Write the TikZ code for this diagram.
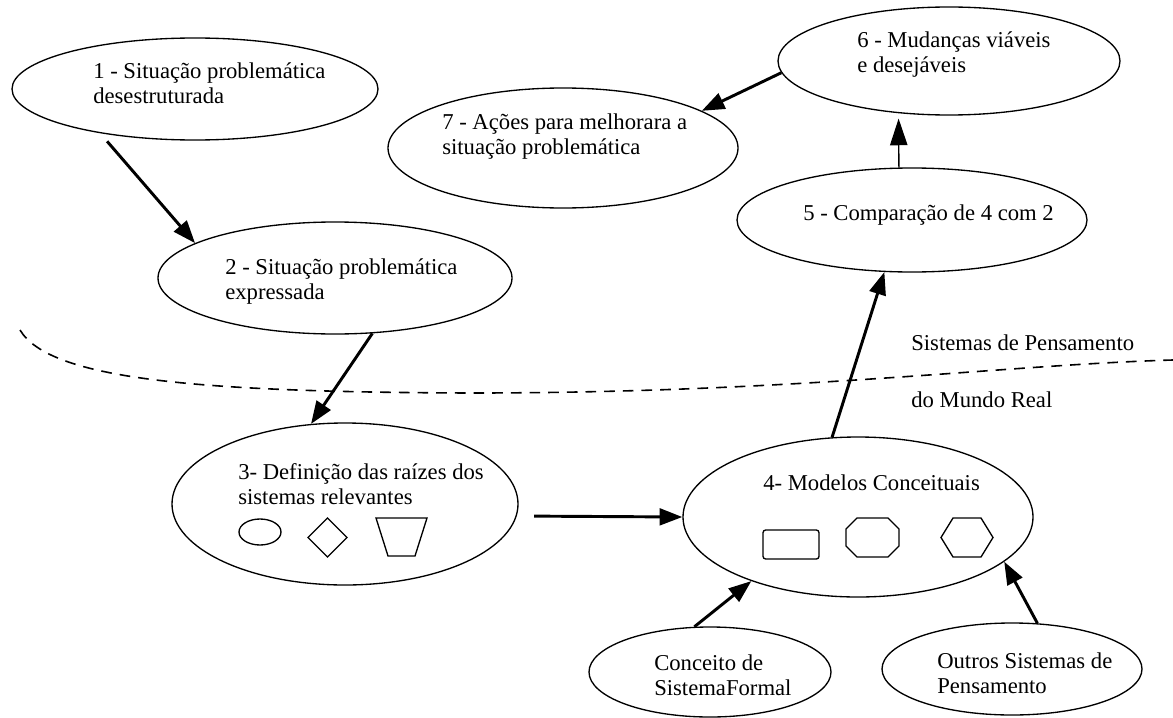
\documentclass[tikz,border=0pt]{standalone}
\usepackage{fontspec}
\setmainfont{Liberation Serif}
\usetikzlibrary{shapes.geometric,arrows.meta}

\begin{document}
\begin{tikzpicture}[x=0.75pt,y=0.75pt,yscale=-1,xscale=1,
	bubble/.style={draw, ellipse, inner sep=0pt, line width=1pt},
	lbl/.style={anchor=west, inner sep=0pt, align=left, font=\fontsize{17pt}{18.75pt}\selectfont},
	flow/.style={line width=2.2pt, -{Triangle[length=17pt,width=12.5pt]}},
	thinflow/.style={line width=1pt, -{Triangle[length=20pt,width=13pt]}},
	icon/.style={line width=1pt}]
	\useasboundingbox (0,0) rectangle (1173,717);
	
	%Shape: Ellipse
	\node [bubble, minimum width=274.5pt, minimum height=76.5pt] (e1) at (195,89) {};
	%Shape: Ellipse
	\node [bubble, minimum width=265.5pt, minimum height=84pt] (e2) at (335,278) {};
	%Shape: Ellipse
	\node [bubble, minimum width=259.5pt, minimum height=121.5pt] (e3) at (345,504) {};
	%Shape: Ellipse
	\node [bubble, minimum width=262.5pt, minimum height=120pt] (e4) at (858,517) {};
	%Shape: Ellipse
	\node [bubble, minimum width=262.5pt, minimum height=78pt] (e5) at (912,220) {};
	%Shape: Ellipse
	\node [bubble, minimum width=256.5pt, minimum height=81pt] (e6) at (949,61) {};
	%Shape: Ellipse
	\node [bubble, minimum width=262.5pt, minimum height=90pt] (e7) at (563,148) {};
	%Shape: Ellipse
	\node [bubble, minimum width=181.5pt, minimum height=67.5pt] (e8) at (710,672) {};
	%Shape: Ellipse
	\node [bubble, minimum width=195pt, minimum height=69pt] (e9) at (1012,669) {};
	
	%Shapes inside 3
	\draw [icon] (260,532) ellipse (15.75pt and 9.75pt);
	\draw [icon] (327.5,518) -- (347,537.5) -- (327.5,557) -- (308,537.5) -- cycle ;
	\draw [icon] (376,518) -- (427,518) -- (415,556) -- (388,556) -- cycle ;
	%Shapes inside 4
	\draw [icon, rounded corners=2pt] (763,530) rectangle (819,559);
	\draw [icon] (857,518) -- (888,518) -- (899,529) -- (899,546) -- (888,557) -- (857,557) -- (846,546) -- (846,529) -- cycle ;
	\draw [icon] (941,537.5) -- (953,518) -- (981,518) -- (993,537.5) -- (981,557) -- (953,557) -- cycle ;
	
	%Curve Lines
	\draw [line width=1.2pt, dash pattern={on 8pt off 6pt}] (20,330) .. controls (50,380) and (200,392) .. (470,393) .. controls (800,393) and (1000,365) .. (1173,360) ;
	
	%Straight Lines
	\draw [flow, shorten <=8pt] (e1.205) -- (e2.166);
	\draw [flow] (e2.304) -- (e3.113);
	\draw [flow, shorten <=13pt] (e3.356) -- (e4.west);
	\draw [flow] (e4.108) -- (e5.242);
	\draw [thinflow, shorten >=4pt] (e5.104) -- (e6.226);
	\draw [flow] (e6.184) -- (e7.15);
	\draw [flow] (e8.109) -- (e4.211);
	\draw [flow] (e9.61) -- (e4.343);
	
	% Text Node
	\node [lbl] (t1) at (93,83) {1 - Situação problemática\\desestruturada};
	% Text Node
	\node [lbl] (t2) at (225,282) {2 - Situação problemática\\expressada};
	% Text Node
	\node [lbl] (t3) at (238,484) {3- Definição das raízes dos\\sistemas relevantes};
	% Text Node
	\node [lbl] (t4) at (763,483) {4- Modelos Conceituais};
	% Text Node
	\node [lbl] (t5) at (803,215) {5 - Comparação de 4 com 2};
	% Text Node
	\node [lbl] (t6) at (857,55) {6 - Mudanças viáveis\\e desejáveis};
	% Text Node
	\node [lbl] (t7) at (442,137) {7 - Ações para melhorara a\\situação problemática};
	% Text Node
	\node [lbl] (t8) at (654,675) {Conceito de\\SistemaFormal};
	% Text Node
	\node [lbl] (t9) at (937,673) {Outros Sistemas de\\Pensamento};
	% Text Node
	\node [lbl] (tsp) at (911,343) {Sistemas de Pensamento};
	% Text Node
	\node [lbl] (tmr) at (911,400) {do Mundo Real};
	
\end{tikzpicture}
\end{document}
